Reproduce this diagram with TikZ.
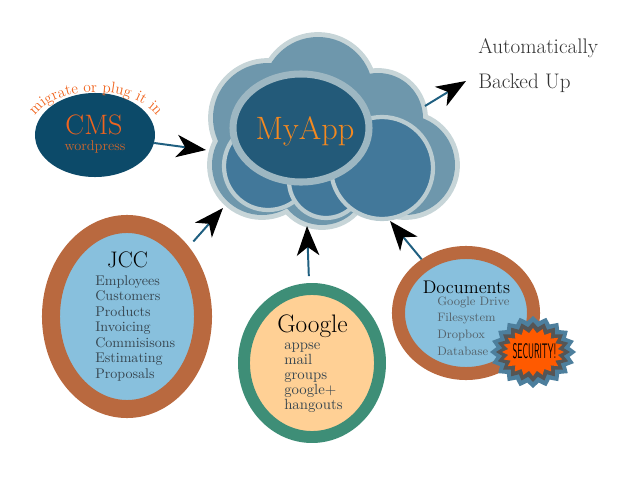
\documentclass[tikz,border=0pt]{standalone}
\usepackage{tikz}
\usetikzlibrary{arrows.meta,shapes.geometric,decorations.text}

\definecolor{cmsblue}{HTML}{0C4A69}
\definecolor{cmsorange}{HTML}{F0641E}
\definecolor{wpbrown}{HTML}{C9652E}
\definecolor{appfill}{HTML}{235A79}
\definecolor{appring}{HTML}{9DB7C2}
\definecolor{cloudpale}{HTML}{C7D5D8}
\definecolor{cloudtop}{HTML}{6E97AC}
\definecolor{cloudlow}{HTML}{42789A}
\definecolor{apporange}{HTML}{F5891F}
\definecolor{rust}{HTML}{B9693F}
\definecolor{skyblue}{HTML}{88C0DD}
\definecolor{sagegreen}{HTML}{3E8E77}
\definecolor{peach}{HTML}{FFD095}
\definecolor{listgrey}{HTML}{36454F}
\definecolor{shaftblue}{HTML}{1F5F80}
\definecolor{starblue}{HTML}{4D7F9D}
\definecolor{stargrey}{HTML}{555555}
\definecolor{starorange}{HTML}{FF5A00}

\begin{document}
\begin{tikzpicture}[x=0.025cm,y=-0.025cm,
    feed/.style={draw=shaftblue,line width=1.4pt,-{Stealth[length=21pt,width=16pt,inset=6pt,color=black]}},
    blob/.style={ellipse,inner sep=0pt},
    label/.style={inner sep=0pt,anchor=base},
    item/.style={inner sep=0pt,anchor=base west,text=listgrey}]
\useasboundingbox (0,0) rectangle (640,480);

% cloud
\foreach \cx/\cy/\r in {268/118/55,318/92/55,378/118/45,405/165/50,322/180/45,262/165/50,340/145/50}
  \draw[cloudpale,line width=7pt] (\cx,\cy) circle (\r);
\foreach \cx/\cy/\r in {268/118/55,318/92/55,378/118/45,405/165/50,322/180/45,262/165/50,340/145/50}
  \fill[cloudtop] (\cx,\cy) circle (\r);
\foreach \cx/\cy/\r in {268/166/44,326/181/37,382/168/51}
  \draw[cloudpale!85!cloudtop,line width=3pt,fill=cloudlow] (\cx,\cy) circle (\r);
\node[blob,fill=appfill,draw=appring,line width=5pt,minimum width=3.4cm,minimum height=2.7cm] (myapp) at (301,128) {};
\node[text=apporange,font=\fontsize{23}{23}\selectfont] (myapptext) at (305,131) {MyApp};

% cms
\node[blob,fill=cmsblue,minimum width=3cm,minimum height=2.1cm] (cms) at (95,135) {};
\node[text=cmsorange,font=\fontsize{20}{20}\selectfont] (cmstext) at (94,125) {CMS};
\node[text=wpbrown,font=\fontsize{10}{10}\selectfont] (wptext) at (95,146.5) {wordpress};
\path[postaction={decorate},decoration={text along path,text align=center,
    text={|\fontsize{11}{11}\selectfont\color{cmsorange}|migrate or plug it in}}]
  (32,122) .. controls (48,82) and (142,82) .. (160,122);

% backed up
\node[inner sep=0pt,anchor=base west,text=black!80,font=\fontsize{15}{15}\selectfont] (autotext) at (478,53) {Automatically};
\node[inner sep=0pt,anchor=base west,text=black!80,font=\fontsize{15}{15}\selectfont] (backedtext) at (478,89) {Backed Up};

% jcc
\node[blob,fill=skyblue,draw=rust,line width=12.8pt,minimum width=3.8cm,minimum height=4.625cm] (jcc) at (127,316.5) {};
\node[label,font=\fontsize{16}{16}\selectfont] (jcctitle) at (127.5,267) {JCC};
\foreach \t [count=\i] in {Employees,Customers,Products,Invoicing,Commisisons,Estimating,Proposals}
  \node[item,font=\fontsize{10}{10}\selectfont] (jcc-\i) at (95,{285+15.5*(\i-1)}) {\t};

% google
\node[blob,fill=peach,draw=sagegreen,line width=8.5pt,minimum width=3.4cm,minimum height=3.7cm] (google) at (312,363) {};
\node[label,font=\fontsize{18}{18}\selectfont] (googletitle) at (312.5,332) {Google};
\foreach \t [count=\i] in {appse,mail,groups,google+,hangouts}
  \node[item,font=\fontsize{10.5}{10.5}\selectfont] (google-\i) at (284,{349+15*(\i-1)}) {\t};

% documents
\node[blob,fill=skyblue,draw=rust,line width=9.25pt,minimum width=3.375cm,minimum height=3.025cm] (docs) at (466,313) {};
\node[label,font=\fontsize{13}{13}\selectfont] (docstitle) at (466.5,293) {Documents};
\foreach \t [count=\i] in {Google Drive,Filesystem,Dropbox,Database}
  \node[item,text=listgrey!85,font=\fontsize{8.7}{8.7}\selectfont] (docs-\i) at (437,{305+16.7*(\i-1)}) {\t};

% security
\foreach \ro/\ry/\col in {43/36/starblue,37/30/stargrey,31/24/starorange}
  \fill[\col] plot[samples at={0,...,39},variable=\k]
    ({533+(\ro-6*mod(\k,2))*cos(9*\k)},{352+(\ry-5*mod(\k,2))*sin(9*\k)}) -- cycle;
\node[xscale=0.42,font=\sffamily\fontsize{15}{15}\selectfont] (security) at (534.5,351) {SECURITY!};

% arrows
\coordinate (cmstip) at (206,150);
\coordinate (jcctip) at (223,208);
\coordinate (googletip) at (307,226);
\coordinate (docstip) at (390,221);
\coordinate (upstart) at (425,106);
\coordinate (uptip) at (466,81);
\draw[feed] (cms) -- (cmstip);
\draw[feed,shorten <=5pt] (jcc) -- (jcctip);
\draw[feed,shorten <=5pt] (google) -- (googletip);
\draw[feed] (docs) -- (docstip);
\draw[feed] (upstart) -- (uptip);
\end{tikzpicture}
\end{document}
